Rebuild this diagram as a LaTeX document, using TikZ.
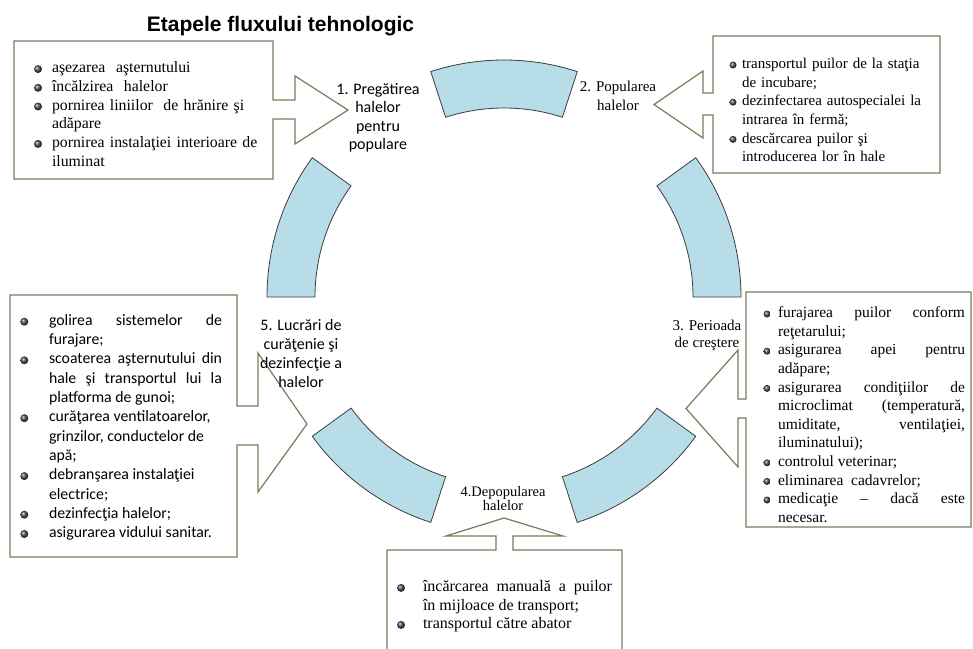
\documentclass[tikz,border=0pt]{standalone}
\usepackage{fontspec}
\setmainfont{Liberation Serif}
\newfontfamily\carlito{Carlito}
\newfontfamily\arialf{Liberation Sans}
\usepackage{enumitem}
\usetikzlibrary{calc}
\definecolor{segblue}{RGB}{183,221,232}
\definecolor{segline}{RGB}{60,60,60}
\definecolor{boxline}{RGB}{122,122,92}
\newcommand\mybul[1]{\tikz[baseline=-3.6pt]\shade[ball color=black!70] (0,0) circle (#1);}
\tikzset{
  seg/.style={fill=segblue, draw=segline, line width=0.8pt},
  callout/.style={draw=boxline, fill=white, line width=1.2pt, line join=miter},
  txt/.style={inner sep=0pt, outer sep=0pt, anchor=north west},
  lab/.style={inner sep=0pt, outer sep=0pt, anchor=north, align=center},
}
\begin{document}
\begin{tikzpicture}[x=1pt,y=1pt]
\useasboundingbox (0,0) rectangle (973,-648);
\fill[white] (0,0) rectangle (973,-648);
\clip (0,0) rectangle (973,-648);
\coordinate (c) at (504,-297);
% ring segments
\foreach \a in {0,72,144,216,288} {
  \pgfmathsetmacro\b{\a+36}
  \draw[seg] ($(c)+(\a:237)$) arc[start angle=\a, end angle=\b, radius=237pt]
     -- ($(c)+(\b:189)$) arc[start angle=\b, end angle=\a, radius=189pt] -- cycle;
}
% callouts
\draw[callout] (14,-41) -- (273,-41) -- (273,-100) -- (295,-100) -- (295,-76) -- (348,-110)
  -- (295,-144) -- (295,-119) -- (273,-119) -- (273,-179) -- (14,-179) -- cycle;
\draw[callout] (713,-36) -- (940,-36) -- (940,-173) -- (713,-173) -- (713,-115) -- (703,-115)
  -- (703,-138) -- (654,-104.5) -- (703,-71) -- (703,-93) -- (713,-93) -- cycle;
\draw[callout] (10,-295) -- (237,-295) -- (237,-406) -- (258,-406) -- (258,-353) -- (307,-424)
  -- (258,-492) -- (258,-445) -- (237,-445) -- (237,-557) -- (10,-557) -- cycle;
\draw[callout] (746,-292) -- (971,-292) -- (971,-527) -- (746,-527) -- (746,-418) -- (738,-418)
  -- (738,-467) -- (686,-408.5) -- (738,-350) -- (738,-399) -- (746,-399) -- cycle;
\draw[callout] (387,-550) -- (496,-550) -- (496,-536) -- (446,-536) -- (504,-518) -- (563,-536)
  -- (513,-536) -- (513,-550) -- (622,-550) -- (622,-680) -- (387,-680) -- cycle;
% title
\node[inner sep=0pt, anchor=base] (title) at (280.5,-31.7)
  {\fontsize{21}{24}\arialf\bfseries Etapele fluxului tehnologic};
% box texts
\node[txt, text width=239pt, align=left, font=\fontsize{15.8}{18.7}\selectfont] (t1) at (28,-54) {%
\begin{itemize}[label={\strut\mybul{4pt}}, leftmargin=24pt, labelwidth=14pt, labelsep=10pt, labelindent=0pt, itemsep=0pt, topsep=0pt, parsep=0pt, partopsep=0pt]
\item aşezarea\ \ aşternutului
\item încălzirea\ \ halelor
\item pornirea liniilor\ \ de hrănire şi\\ adăpare
\item pornirea instalaţiei interioare de\\ iluminat
\end{itemize}};
\node[txt, text width=200.5pt, align=left, font=\fontsize{15}{18.6}\selectfont] (t2) at (726.5,-50) {%
\begin{itemize}[label={\strut\mybul{3.5pt}}, leftmargin=15.5pt, labelwidth=10pt, labelsep=5.5pt, labelindent=0pt, itemsep=0pt, topsep=0pt, parsep=0pt, partopsep=0pt]
\item transportul puilor de la staţia\\ de incubare;
\item dezinfectarea autospecialei la\\ intrarea în fermă;
\item descărcarea puilor şi\\ introducerea lor în hale
\end{itemize}};
\node[txt, text width=204.5pt, align=justify, font=\fontsize{15.5}{18.6}\selectfont] (t3) at (760.5,-299) {%
\begin{itemize}[label={\strut\mybul{3.5pt}}, leftmargin=17.5pt, labelwidth=10pt, labelsep=7.5pt, labelindent=0pt, itemsep=0pt, topsep=0pt, parsep=0pt, partopsep=0pt]
\item furajarea puilor conform \linebreak reţetarului;
\item asigurarea apei pentru \linebreak adăpare;
\item asigurarea condiţiilor de \linebreak microclimat (temperatură, \linebreak umiditate, ventilaţiei, \linebreak iluminatului);
\item controlul veterinar;
\item eliminarea\ \ cadavrelor;
\item medicaţie – dacă este \linebreak necesar.
\end{itemize}};
\node[txt, text width=203.7pt, align=justify, font=\carlito\fontsize{15.8}{19.3}\selectfont] (t5) at (18.3,-306) {%
\begin{itemize}[label={\strut\mybul{4pt}}, leftmargin=30.7pt, labelwidth=10pt, labelsep=20.7pt, labelindent=0pt, itemsep=0pt, topsep=0pt, parsep=0pt, partopsep=0pt]
\item golirea sistemelor de \linebreak furajare;
\item scoaterea aşternutului din \linebreak hale şi transportul lui la \linebreak platforma de gunoi;
\item curăţarea ventilatoarelor,\\ grinzilor, conductelor de\\ apă;
\item debranşarea instalaţiei\\ electrice;
\item dezinfecţia halelor;
\item asigurarea vidului sanitar.
\end{itemize}};
\node[txt, text width=217pt, align=justify, font=\fontsize{16}{18.5}\selectfont] (t4) at (395,-573) {%
\begin{itemize}[label={\strut\mybul{4pt}}, leftmargin=28pt, labelwidth=10pt, labelsep=18pt, labelindent=0pt, itemsep=0pt, topsep=0pt, parsep=0pt, partopsep=0pt]
\item încărcarea manuală a puilor \linebreak în mijloace de transport;
\item transportul către abator
\end{itemize}};
% stage labels
\node[lab, font=\carlito\fontsize{16}{18.6}\selectfont] (l1) at (378,-81) {\strut 1. Pregătirea\\halelor\\pentru\\populare};
\node[lab, font=\fontsize{15}{18.3}\selectfont] (l2) at (618,-78.9) {\strut 2. Popularea\\halelor};
\node[lab, font=\fontsize{15}{16.7}\selectfont] (l3) at (707,-319) {\strut 3. Perioada\\de creştere};
\node[lab, font=\fontsize{14.5}{12.5}\selectfont] (l4) at (503,-486) {\rule{0pt}{10pt}4.Depopularea\\halelor};
\node[lab, font=\carlito\fontsize{16}{19}\selectfont] (l5) at (301,-317) {\strut 5. Lucrări de\\curăţenie şi\\dezinfecţie a\\halelor};
\end{tikzpicture}
\end{document}
